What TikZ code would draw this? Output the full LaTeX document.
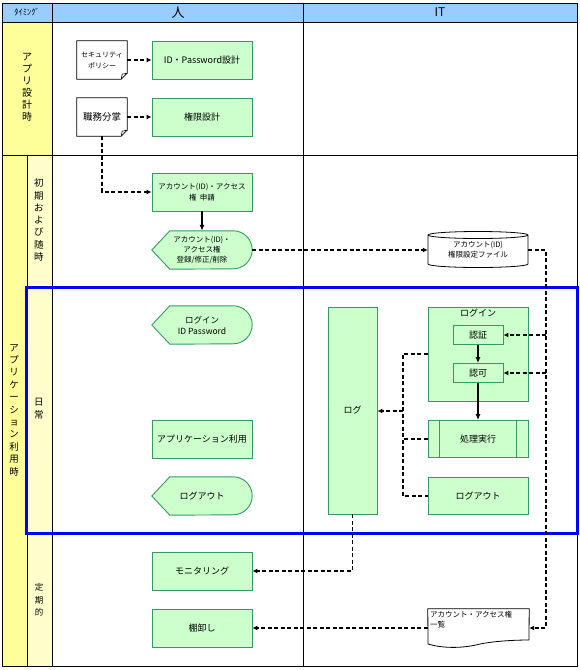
\documentclass[tikz,border=0pt]{standalone}
\usepackage{fontspec}
\setmainfont{Noto Sans CJK JP}
\usetikzlibrary{arrows.meta,calc}
\definecolor{hdr}{HTML}{99CCFF}
\definecolor{yel}{HTML}{FFFF99}
\definecolor{lyel}{HTML}{FFFFCC}
\definecolor{gfill}{HTML}{CCFFCC}
\definecolor{gline}{HTML}{339966}
\definecolor{bluebox}{HTML}{0000FF}
\pgfdeclarelayer{back}\pgfdeclarelayer{mid}\pgfsetlayers{back,mid,main}
\newcommand\mydispshape[1]{\path[goutline] (#1.west) -- ($(#1.north west)+(18,0)$) -- ($(#1.north east)+(-19,0)$) arc[start angle=90,end angle=-90,x radius=19pt,y radius=19pt] -- ($(#1.south west)+(18,0)$) -- cycle;}
\newcommand\mydocshape[1]{\path[outline] (#1.north west) -- (#1.north east) -- ($(#1.south east)+(0,-6)$) -- ($(#1.south east)+(-6,0)$) -- (#1.south west) -- cycle;
  \draw[line width=0.6pt] ($(#1.south east)+(-6,0)$) -- ($(#1.south east)+(-5,-5)$) -- ($(#1.south east)+(0,-6)$);}
\begin{document}
\begin{tikzpicture}[x=1pt,y=-1pt,
  tbl/.style={draw=black, line width=0.9pt},
  gbox/.style={draw=gline, fill=gfill, line width=0.9pt, minimum width=100pt, minimum height=38pt, inner sep=1pt, align=center, font=\fontsize{9}{11}\selectfont},
  shapebox/.style={draw=none, minimum width=100pt, minimum height=38pt, inner sep=1pt, align=center, font=\fontsize{9}{11}\selectfont},
  outline/.style={draw=black, fill=white, line width=0.8pt},
  goutline/.style={draw=gline, fill=gfill, line width=0.9pt},
  dline/.style={draw=black, line width=1.8pt, dash pattern=on 4pt off 2.5pt},
  darrow/.style={dline, -{Latex[length=5pt,width=5pt]}},
  sarrow/.style={draw=black, line width=1.8pt, -{Latex[length=6pt,width=5pt]}},
  vlabel/.style={align=center, inner sep=0pt, font=\fontsize{10}{12}\selectfont},
]
\useasboundingbox (0,0) rectangle (580,670);
% ---------- table ----------
\begin{pgfonlayer}{back}
\fill[hdr] (2,3) rectangle (577,22);
\fill[yel] (2,22) rectangle (52,155);
\fill[yel] (2,155) rectangle (27,666);
\fill[lyel] (27,155) rectangle (52,666);
\draw[tbl] (2,22) -- (577,22);
\draw[tbl] (52,3) -- (52,666);
\draw[tbl] (303,3) -- (303,666);
\draw[tbl] (2,155) -- (577,155);
\draw[tbl] (27,155) -- (27,666);
\draw[tbl] (27,287) -- (577,287);
\draw[tbl] (27,533) -- (577,533);
\draw[tbl] (2,3) rectangle (577,666);
\end{pgfonlayer}
\node[font=\fontsize{8.5}{9}\selectfont] (htime) at (27,12.5) {ﾀｲﾐﾝｸﾞ};
\node[font=\fontsize{13}{14}\selectfont] (hhuman) at (178,12.5) {人};
\node[font=\fontsize{12}{14}\selectfont] (hit) at (440,12.5) {IT};
\node[vlabel] (vdesign) at (27,87) {ア\\プ\\リ\\設\\計\\時};
\node[vlabel, font=\fontsize{9.5}{12.4}\selectfont] (vuse) at (14,410) {ア\\プ\\リ\\ケ\\ー\\シ\\ョ\\ン\\利\\用\\時};
\node[vlabel, font=\fontsize{9.5}{12.3}\selectfont] (vinit) at (39,220) {初\\期\\お\\よ\\び\\随\\時};
\node[vlabel, font=\fontsize{9.5}{13}\selectfont] (vdaily) at (39,409) {日\\常};
\node[vlabel, font=\fontsize{8.5}{12.5}\selectfont] (vperiod) at (39,600) {定\\期\\的};
% ---------- human column ----------
\node[shapebox, minimum width=50pt, font=\fontsize{7}{11}\selectfont] (secpol) at (102,60) {セキュリティ\\ポリシー};
\node[shapebox, minimum width=50pt, font=\fontsize{9.5}{11}\selectfont] (shokumu) at (102,117) {職務分掌};
\node[gbox] (idpw) at (202,60) {ID・Password設計};
\node[gbox] (kengen) at (202,117) {権限設計};
\node[gbox, font=\fontsize{7.5}{11}\selectfont] (shinsei) at (202,192) {アカウント(ID)・アクセス\\権\ \ 申請};
\node[shapebox, font=\fontsize{7.5}{10}\selectfont] (toroku) at (202,250) {アカウント(ID)・\\アクセス権\\登録/修正/削除};
\node[shapebox, font=\fontsize{8.5}{11}\selectfont] (logindisp) at (202,325) {ログイン\\ID Password};
\node[gbox] (apuri) at (202,439) {アプリケーション利用};
\node[shapebox] (logoutdisp) at (202,496) {ログアウト};
\node[gbox] (monitor) at (202,571) {モニタリング};
\node[gbox] (tana) at (202,628) {棚卸し};
% ---------- IT column ----------
\node[shapebox, minimum height=35.5pt, font=\fontsize{7.5}{10}\selectfont] (cyl) at (478,250) {アカウント(ID)\\権限設定ファイル};
\node[gbox, minimum height=94pt, label={[font=\fontsize{9}{11}\selectfont, anchor=north, inner sep=2pt]north:ログイン}] (loginit) at (478,354) {};
\node[gbox, minimum width=50pt, minimum height=19pt] (ninsho) at (478,335) {認証};
\node[gbox, minimum width=50pt, minimum height=19pt] (ninka) at (478,373) {認可};
\node[gbox, minimum height=37pt] (shori) at (478,439) {処理実行};
\node[gbox, minimum height=37pt] (logoutit) at (478,496) {ログアウト};
\node[gbox, minimum width=49pt, minimum height=207pt] (log) at (352.5,410.5) {ログ};
\node[shapebox, minimum width=101pt, label={[font=\fontsize{7.5}{10}\selectfont, anchor=north west, align=left, inner sep=2pt]north west:アカウント・アクセス権\\一覧}] (ichiran) at (478.5,628) {};
\draw[gline, line width=0.9pt] ($(shori.north west)+(12,0)$) -- ($(shori.south west)+(12,0)$);
\draw[gline, line width=0.9pt] ($(shori.north east)+(-12,0)$) -- ($(shori.south east)+(-12,0)$);
% ---------- custom shapes ----------
\begin{pgfonlayer}{mid}
\mydocshape{secpol}
\mydocshape{shokumu}
\mydispshape{toroku}
\mydispshape{logindisp}
\mydispshape{logoutdisp}
\path[outline] (428,235) -- (428,264) arc[start angle=180,end angle=360,x radius=50pt,y radius=3.5pt] -- (528,235) arc[start angle=0,end angle=180,x radius=50pt,y radius=3.5pt] -- cycle;
\draw[line width=0.8pt] (428,235) arc[start angle=180,end angle=360,x radius=50pt,y radius=3.5pt];
\path[outline] (ichiran.north west) -- (ichiran.north east) -- (529,640) .. controls (515,640) and (495,641) .. (480,644) .. controls (465,648) and (445,649) .. (428,644) -- cycle;
\end{pgfonlayer}
% ---------- blue frame ----------
\draw[bluebox, line width=3pt] (26,287) rectangle (577,533);
% ---------- connectors ----------
\draw[darrow] (secpol.east) -- (idpw.west);
\draw[darrow] (shokumu.east) -- (kengen.west);
\draw[darrow] (shokumu.south) |- (shinsei.west);
\draw[sarrow] (shinsei.south) -- (toroku.north);
\draw[darrow] (toroku.east) -- (cyl.west);
\coordinate (rbus) at (546,628);
\draw[darrow] (cyl.east) -| (rbus) -- (ichiran.east);
\draw[darrow] (ninsho.east -| rbus) -- (ninsho.east);
\draw[darrow] (ninka.east -| rbus) -- (ninka.east);
\draw[sarrow] (ninsho.south) -- (ninka.north);
\draw[sarrow] (ninka.south) -- (shori.north);
\coordinate (lbus) at (403,411);
\draw[dline] (loginit.west) -- (loginit.west -| lbus) -- (logoutit.west -| lbus) -- (logoutit.west);
\draw[dline] (shori.west) -- (shori.west -| lbus);
\draw[darrow] (lbus) -- (lbus -| log.east);
\draw[darrow] (log.south) |- (monitor.east);
\draw[darrow] (ichiran.west) -- (tana.east);
\end{tikzpicture}
\end{document}
